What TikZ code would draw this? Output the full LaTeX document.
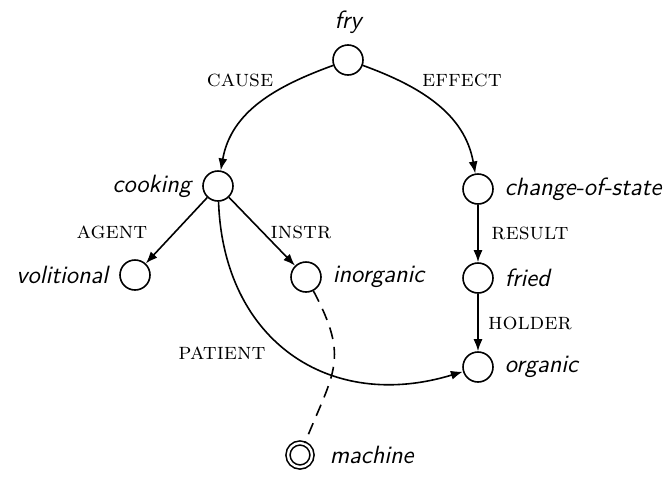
\documentclass[tikz,border=0pt]{standalone}
\usetikzlibrary{arrows.meta}
\begin{document}
\begin{tikzpicture}[x=0.5pt,y=-0.5pt,
  st/.style={circle,draw,line width=0.8pt,minimum size=15pt,inner sep=0pt},
  fin/.style={st,double,double distance=1.2pt,minimum size=12pt},
  nm/.style={font=\sffamily\itshape\fontsize{12.5}{15}\selectfont},
  rel/.style={font=\scshape\fontsize{11.8}{14}\selectfont},
  edge/.style={line width=0.8pt,-{Latex[length=6pt,width=4.5pt]}}]
\useasboundingbox (0,0) rectangle (669,477);
\node[st,label={[nm,label distance=2pt]above:fry}] (fry) at (348,60) {};
\node[st,label={[nm,label distance=2pt]left:cooking}] (cooking) at (218,186) {};
\node[st,label={[nm,label distance=2pt]right:change-of-state}] (cos) at (478,189) {};
\node[st,label={[nm,label distance=2pt]left:volitional}] (vol) at (135,275) {};
\node[st,label={[nm,label distance=2pt]right:inorganic}] (inorg) at (306,277) {};
\node[st,label={[nm,label distance=2pt]right:fried}] (fried) at (478,278) {};
\node[st,label={[nm,label distance=2pt]right:organic}] (org) at (478,367) {};
\node[fin,label={[nm,label distance=5pt]right:machine}] (mach) at (300,455) {};
\node[rel] (lcause) at (240,80) {cause};
\node[rel] (leffect) at (462,80) {effect};
\node[rel] (lagent) at (112,232) {agent};
\node[rel] (linstr) at (301,232) {instr};
\node[rel] (lresult) at (530,233) {result};
\node[rel] (lholder) at (530,323) {holder};
\node[rel] (lpatient) at (222,353) {patient};
\draw[edge] (fry) to[out=200,in=80] (cooking);
\draw[edge] (fry) to[out=-20,in=100] (cos);
\draw[edge] (cooking) -- (vol);
\draw[edge] (cooking) -- (inorg);
\draw[edge] (cos) -- (fried);
\draw[edge] (fried) -- (org);
\draw[edge] (cooking) to[out=-88,in=197,looseness=1.2] (org);
\draw[line width=0.8pt,dashed,dash pattern=on 6pt off 4pt] (inorg) to[out=-62,in=68,looseness=1.3] (mach);
\end{tikzpicture}
\end{document}
